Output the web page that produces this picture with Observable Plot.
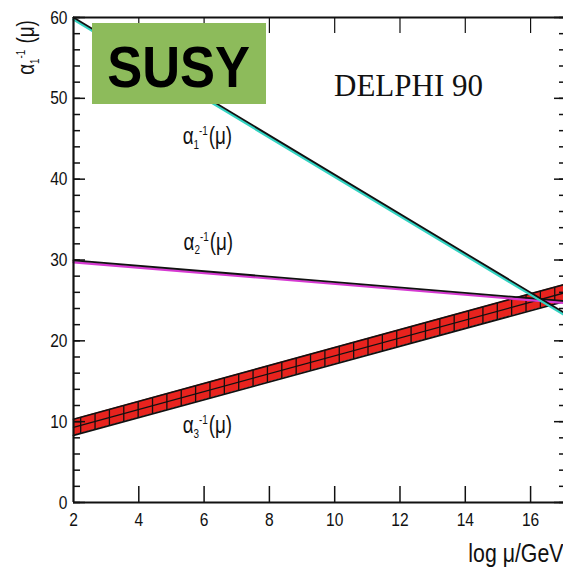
<!DOCTYPE html>
<html><head><meta charset="utf-8">
<script src="https://cdn.jsdelivr.net/npm/d3@7"></script>
<script src="https://cdn.jsdelivr.net/npm/@observablehq/plot@0.6"></script>
<style>
html,body{margin:0;padding:0;background:#fff;overflow:hidden;width:563px;height:568px}
#wrap{position:relative;width:566px;height:568px}
#susy{position:absolute;left:92px;top:23px;width:174px;height:81px;background:#8dbb5b;display:flex;align-items:center;justify-content:center}
#susy span{font-family:'Liberation Sans',Arial,sans-serif;font-weight:bold;font-size:57px;transform:scaleX(0.92);display:inline-block;margin-top:8px;color:#000;line-height:1}
</style></head><body><div id="wrap"></div>
<script>
// ---- data ----
const logMu = [2, 17.1];                 // x extent of the running lines (log10 mu/GeV)
const invAlpha1 = [60.0, 23.3];          // alpha_1^-1 at the ends
const invAlpha2 = [29.95, 24.9];         // alpha_2^-1 at the ends
const invAlpha3 = [9.3, 26.0];           // alpha_3^-1 central value at the ends
const invAlpha3Err = [1.0, 1.05];        // half-width of the alpha_3 band
const xTickValues = [2, 4, 6, 8, 10, 12, 14, 16];
const yTickValues = [0, 10, 20, 30, 40, 50, 60];
const yMinorTicks = d3.range(0, 61, 2);
const seriesLabels = ["α|1|-1|(μ)", "α|2|-1|(μ)", "α|3|-1|(μ)"];
const yTitle = "α|1|-1| (μ)";
const xTitle = "log μ/GeV";
const expTitle = "DELPHI 90";
const boxLabel = "SUSY";

// ---- tables built from the arrays ----
const rows = logMu.map((x, i) => ({x, a1: invAlpha1[i], a2: invAlpha2[i], a3: invAlpha3[i],
  lo: invAlpha3[i] - invAlpha3Err[i], hi: invAlpha3[i] + invAlpha3Err[i]}));
const loS = d3.scaleLinear().domain(logMu).range(rows.map(r => r.lo));
const hiS = d3.scaleLinear().domain(logMu).range(rows.map(r => r.hi));
const hatch = d3.range(logMu[0] + 0.22, logMu[1], 0.44).map(x => ({x, lo: loS(x), hi: hiS(x)}));

const W = 566, H = 568, ML = 73, MR = 0, MT = 17, MB = 66;
const pw = W - ML - MR, ph = H - MT - MB;
const SANS = "'Liberation Sans',Arial,Helvetica,sans-serif";

const chart = Plot.plot({
  width: W, height: H, marginLeft: ML, marginRight: MR, marginTop: MT, marginBottom: MB,
  x: {domain: [2, 17.1], axis: null},
  y: {domain: [0, 60], axis: null},
  style: {fontFamily: SANS, fontSize: "18px", color: "#111", background: "transparent", overflow: "visible"},
  marks: [
    // alpha_3 band
    Plot.areaY(rows, {x: "x", y1: "lo", y2: "hi", fill: "#e8231e"}),
    Plot.link(hatch, {x1: "x", x2: "x", y1: "lo", y2: "hi", stroke: "#111", strokeWidth: 1.3}),
    Plot.line(rows, {x: "x", y: "lo", stroke: "#111", strokeWidth: 1.7}),
    Plot.line(rows, {x: "x", y: "hi", stroke: "#111", strokeWidth: 1.7}),
    Plot.line(rows, {x: "x", y: "a3", stroke: "#111", strokeWidth: 1.3}),
    // alpha_2
    Plot.line(rows, {x: "x", y: "a2", stroke: "#d63ad2", strokeWidth: 2.4, dy: 1.8}),
    Plot.line(rows, {x: "x", y: "a2", stroke: "#111", strokeWidth: 1.8}),
    // alpha_1
    Plot.line(rows, {x: "x", y: "a1", stroke: "#33d3c2", strokeWidth: 2.6, dy: 2}),
    Plot.line(rows, {x: "x", y: "a1", stroke: "#111", strokeWidth: 1.8}),
    // frame
    Plot.ruleX([2], {stroke: "#111", strokeWidth: 2.2}),
    Plot.ruleY([0], {stroke: "#111", strokeWidth: 2.2}),
    Plot.ruleY([60], {stroke: "#111", strokeWidth: 2}),
    Plot.ruleX([17.1], {stroke: "#111", strokeWidth: 2}),
    // inward ticks
    Plot.ruleY(yMinorTicks, {insetRight: pw - 7, stroke: "#111", strokeWidth: 1.5}),
    Plot.ruleY(yTickValues, {insetRight: pw - 12, stroke: "#111", strokeWidth: 1.5}),
    Plot.ruleY(yMinorTicks, {insetLeft: pw - 7, stroke: "#111", strokeWidth: 1.5}),
    Plot.ruleY(yTickValues, {insetLeft: pw - 12, stroke: "#111", strokeWidth: 1.5}),
    Plot.ruleX(xTickValues.slice(1), {insetTop: ph - 16, stroke: "#111", strokeWidth: 1.5}),
    Plot.ruleX(xTickValues.slice(1), {insetBottom: ph - 16, stroke: "#111", strokeWidth: 1.2}),
    // tick labels
    Plot.axisX(xTickValues, {anchor: "bottom", tickSize: 0, tickPadding: 10, fontSize: 19, label: null}),
    Plot.axisY(yTickValues, {anchor: "left", tickSize: 0, tickPadding: 6, fontSize: 19, label: null}),
    // annotations
    Plot.text([seriesLabels[0]], {x: 6.1, y: 45.3, text: d => d, fontSize: 23, fill: "#111"}),
    Plot.text([seriesLabels[1]], {x: 6.13, y: 32.2, text: d => d, fontSize: 23, fill: "#111"}),
    Plot.text([seriesLabels[2]], {x: 6.1, y: 9.5, text: d => d, fontSize: 23, fill: "#111"}),
    Plot.text([expTitle], {x: 12.26, y: 51.5, text: d => d, fontSize: 31, fontFamily: "'Liberation Serif','Times New Roman',serif", fill: "#111"}),
    Plot.text([yTitle], {x: 2, y: 60, dx: -47, dy: 30, rotate: -90, text: d => d, fontSize: 23, fill: "#111"}),
    Plot.text([xTitle], {x: 17.1, y: 0, dx: -3, dy: 51, textAnchor: "end", text: d => d, fontSize: 26, fill: "#111"})
  ]
});

// build sub/superscripts
d3.select(chart).selectAll("text").each(function() {
  const t = this.textContent;
  if (!t.includes("|")) return;
  const [base, sub, sup, rest] = t.split("|");
  const fs = parseFloat(this.getAttribute("font-size")) || parseFloat(getComputedStyle(this).fontSize) || 22;
  const small = fs * 0.55;
  const sel = d3.select(this);
  sel.text(null);
  sel.append("tspan").text(base);
  const s1 = sel.append("tspan").attr("font-size", small).attr("dy", fs * 0.22).text(sub);
  const subW = s1.node().getComputedTextLength();
  sel.append("tspan").attr("font-size", small).attr("dx", -subW * 0.9).attr("dy", -fs * 0.62).text(sup);
  sel.append("tspan").attr("dy", fs * 0.40).attr("dx", 1).text(rest);
});

// condensed look of the sans-serif lettering (horizontal squeeze about each anchor)
d3.select(chart).selectAll("text").each(function() {
  if (this.textContent === expTitle) return;
  const tr = this.getAttribute("transform");
  if (tr !== null) this.setAttribute("transform", tr + " scale(0.82,1)");
});

const wrap = document.getElementById("wrap");
wrap.appendChild(chart);
const box = document.createElement("div");
box.id = "susy";
const sp = document.createElement("span");
sp.textContent = boxLabel;
box.appendChild(sp);
wrap.appendChild(box);
</script>
</body></html>
